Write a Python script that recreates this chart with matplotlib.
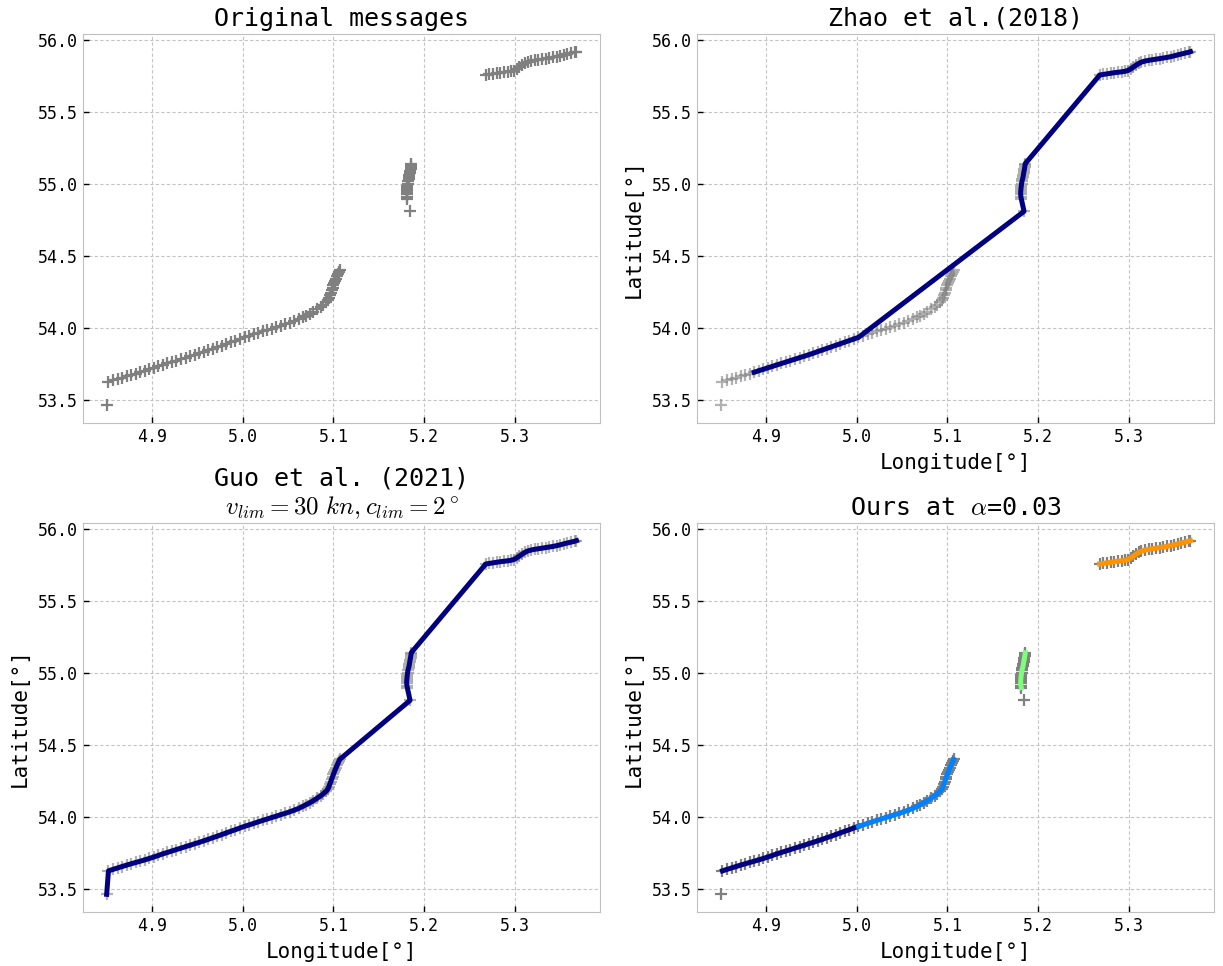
import numpy as np
import matplotlib
matplotlib.use('Agg')
import matplotlib.pyplot as plt

# %%   ***** AIS messages (lon, lat) *****

# first track piece, south-west part
seg1_lon = [4.852, 4.857, 4.862, 4.867, 4.872, 4.877, 4.882, 4.887, 4.892, 4.897,
            4.902, 4.907, 4.912, 4.917, 4.922, 4.927, 4.932, 4.937, 4.942, 4.947,
            4.952, 4.957, 4.962, 4.967, 4.972, 4.977, 4.982, 4.987, 4.992, 4.997,
            5.002, 5.007, 5.012, 5.017, 5.022, 5.027, 5.032, 5.037, 5.042, 5.047,
            5.052, 5.057, 5.062, 5.066, 5.070, 5.074, 5.078, 5.082, 5.086, 5.089,
            5.092, 5.094, 5.095, 5.096, 5.097, 5.098, 5.099, 5.100, 5.101, 5.102,
            5.103, 5.104, 5.105, 5.106, 5.107]
seg1_lat = [53.628, 53.638, 53.648, 53.658, 53.668, 53.677, 53.686, 53.695, 53.704, 53.714,
            53.724, 53.735, 53.746, 53.756, 53.766, 53.776, 53.786, 53.796, 53.806, 53.816,
            53.826, 53.836, 53.847, 53.858, 53.869, 53.880, 53.892, 53.903, 53.914, 53.926,
            53.937, 53.947, 53.957, 53.968, 53.978, 53.988, 53.998, 54.008, 54.018, 54.028,
            54.038, 54.050, 54.062, 54.075, 54.088, 54.101, 54.116, 54.132, 54.149, 54.165,
            54.181, 54.197, 54.213, 54.230, 54.247, 54.264, 54.281, 54.298, 54.315, 54.330,
            54.345, 54.360, 54.374, 54.388, 54.402]

# second piece, short northward leg
seg2_lon = [5.1815, 5.1810, 5.1808, 5.1808, 5.1810, 5.1812, 5.1815, 5.1818, 5.1822,
            5.1828, 5.1834, 5.1838, 5.1842, 5.1846, 5.1850, 5.1853, 5.1856, 5.1858]
seg2_lat = [54.900, 54.915, 54.930, 54.945, 54.960, 54.975, 54.990, 55.005, 55.020,
            55.035, 55.050, 55.065, 55.080, 55.095, 55.108, 55.120, 55.132, 55.143]

# third piece, north-east part
seg3_lon = [5.268, 5.272, 5.276, 5.280, 5.284, 5.288, 5.292, 5.296, 5.299, 5.302,
            5.305, 5.308, 5.311, 5.314, 5.318, 5.322, 5.326, 5.330, 5.334, 5.338,
            5.342, 5.346, 5.350, 5.354, 5.358, 5.362, 5.366, 5.368]
seg3_lat = [55.759, 55.763, 55.767, 55.771, 55.775, 55.778, 55.781, 55.785, 55.790, 55.801,
            55.814, 55.827, 55.839, 55.849, 55.856, 55.861, 55.865, 55.869, 55.873, 55.877,
            55.881, 55.886, 55.892, 55.899, 55.905, 55.911, 55.917, 55.921]

# isolated erroneous messages
outlier_lon = [4.850, 5.1845]
outlier_lat = [53.465, 54.812]

# Zhao et al. reconstruction (vertices)
zhao_lon = [4.887, 4.947, 5.002, 5.1845] + seg2_lon + seg3_lon
zhao_lat = [53.695, 53.816, 53.937, 54.812] + seg2_lat + seg3_lat

# Guo et al. reconstruction
guo_lon = [4.850] + seg1_lon + [5.1845] + seg2_lon + seg3_lon
guo_lat = [53.465] + seg1_lat + [54.812] + seg2_lat + seg3_lat

split_lon = 5.002  # ours: first piece split in two trajectories

# %%

plt.rcParams['font.family'] = 'DejaVu Sans Mono'
plt.rcParams['mathtext.fontset'] = 'cm'

all_lon = seg1_lon + [outlier_lon[1]] + seg2_lon + seg3_lon + [outlier_lon[0]]
all_lat = seg1_lat + [outlier_lat[1]] + seg2_lat + seg3_lat + [outlier_lat[0]]

jet = plt.cm.jet
navy = jet(0.0)

figure, plots = plt.subplots(nrows=2, ncols=2, figsize=(12.23, 9.66), dpi=100)
figure.subplots_adjust(left=0.068, right=0.9926, top=0.9648, bottom=0.0559,
                       wspace=0.188, hspace=0.257)
(ax1, ax2), (ax3, ax4) = plots


def messages(ax, alpha=1.0):
    ax.plot(all_lon, all_lat, '+', color='grey', markersize=8,
            markeredgewidth=1.6, alpha=alpha, zorder=2)


messages(ax1)
ax1.set_title('Original messages', fontsize=18)

messages(ax2, alpha=0.6)
ax2.plot(zhao_lon, zhao_lat, color=navy, linewidth=3.6, zorder=3)
ax2.set_title('Zhao et al.(2018)', fontsize=18)

messages(ax3, alpha=0.6)
ax3.plot(guo_lon, guo_lat, color=navy, linewidth=3.6, zorder=3)
ax3.set_title('Guo et al. (2021)\n$v_{lim}=30\\ kn, c_{lim}=2^\\circ$', fontsize=18)

messages(ax4)
lon1 = np.array(seg1_lon)
lat1 = np.array(seg1_lat)
ax4.plot(lon1[lon1 <= split_lon], lat1[lon1 <= split_lon], color=jet(0.0),
         linewidth=3.6, zorder=3)
ax4.plot(lon1[lon1 >= split_lon], lat1[lon1 >= split_lon], color=jet(0.25),
         linewidth=3.6, zorder=3)
ax4.plot(seg2_lon, seg2_lat, color=jet(0.5), linewidth=3.6, zorder=3)
ax4.plot(seg3_lon, seg3_lat, color=jet(0.75), linewidth=3.6, zorder=3)
ax4.set_title('Ours at $\\alpha$=0.03', fontsize=18)

for ax in (ax2, ax3, ax4):
    ax.set_xlabel('Longitude[°]', fontsize=15, labelpad=5)
    ax.set_ylabel('Latitude[°]', fontsize=15, labelpad=6)

for ax in plots.flat:
    ax.set_xticks([4.9, 5.0, 5.1, 5.2, 5.3])
    ax.set_yticks([53.5, 54.0, 54.5, 55.0, 55.5, 56.0])
    ax.tick_params(direction='in', length=4, width=1, labelsize=12)
    ax.grid(True, linestyle=(0, (3, 2)), color='#c4c4c4', linewidth=0.8)
    ax.set_axisbelow(True)
    for s in ax.spines.values():
        s.set_color('#c0c0c0')

plt.savefig('out.png')
